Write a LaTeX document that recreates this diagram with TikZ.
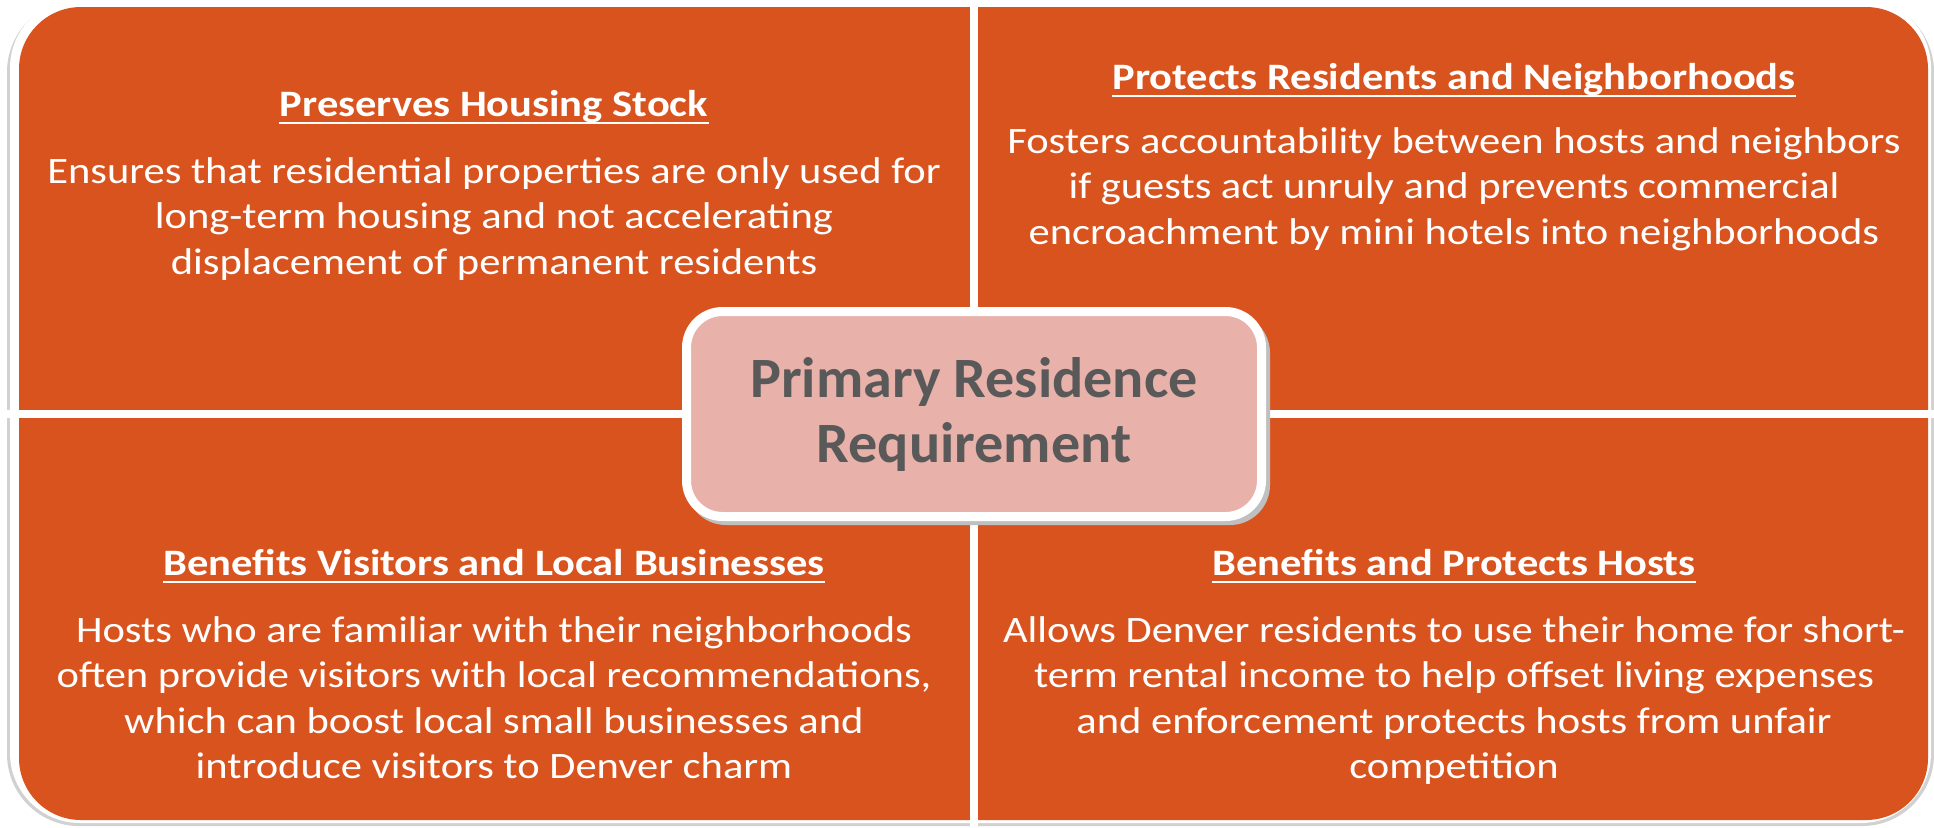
\documentclass[tikz,border=0pt]{standalone}
\usepackage{fontspec}
\setmainfont{Carlito}
\newfontfamily\quadfont{Carlito}[FakeStretch=1.14]
\newfontfamily\centrefont{Carlito}[FakeStretch=1.02]
\usetikzlibrary{calc}
\definecolor{quadorange}{HTML}{D9531E}
\definecolor{centerpink}{HTML}{E8B1AA}
\definecolor{centergray}{HTML}{595959}
\begin{document}
\begin{tikzpicture}[x=0.5pt,y=-0.5pt,
  heading/.style={anchor=base, inner sep=0pt, text=white, font=\quadfont\bfseries\fontsize{18.65}{22.75}\selectfont},
  bodytext/.style={anchor=base, inner sep=0pt, text=white, align=center, font=\quadfont\fontsize{18.65}{22.75}\selectfont},
  uline/.style={draw=white, line width=1.1pt},
  centerbox/.style={draw=white, line width=4.5pt, fill=centerpink, rounded corners=18pt,
    minimum width=287.5pt, minimum height=102.5pt, inner sep=0pt, align=center,
    text=centergray, font=\centrefont\bfseries\fontsize{28.5}{32.5}\selectfont}]
\useasboundingbox (0,0) rectangle (1934,827);
\fill[white] (0,0) rectangle (1934,827);
% outer frame with soft shadow
\fill[black!18, rounded corners=36pt] (7,0) rectangle (1934,826);
\fill[white, rounded corners=35pt] (10,-2) rectangle (1931,823);
% orange field split into four quadrants
\fill[quadorange, rounded corners=31pt] (19,7) rectangle (1928,820);
\fill[white] (970,0) rectangle (978,827);
\fill[white] (0,410) rectangle (1934,418);
% quadrant texts (body nodes are anchored at the baseline of their last line)
\node[heading] (h1) at (494,116) {Preserves Housing Stock};
\draw[uline] ($(h1.base west)+(0,7)$) -- ($(h1.base east)+(0,7)$);
\node[bodytext] (b1) at (494,274) {Ensures that residential properties are only used for\\long-term housing and not accelerating\\displacement of permanent residents};
\node[heading] (h2) at (1454,89) {Protects Residents and Neighborhoods};
\draw[uline] ($(h2.base west)+(0,7)$) -- ($(h2.base east)+(0,7)$);
\node[bodytext] (b2) at (1454,244) {Fosters accountability between hosts and neighbors\\if guests act unruly and prevents commercial\\encroachment by mini hotels into neighborhoods};
\node[heading] (h3) at (494,575) {Benefits Visitors and Local Businesses};
\draw[uline] ($(h3.base west)+(0,7)$) -- ($(h3.base east)+(0,7)$);
\node[bodytext] (b3) at (494,778.5) {Hosts who are familiar with their neighborhoods\\often provide visitors with local recommendations,\\which can boost local small businesses and\\introduce visitors to Denver charm};
\node[heading] (h4) at (1454,575) {Benefits and Protects Hosts};
\draw[uline] ($(h4.base west)+(0,7)$) -- ($(h4.base east)+(0,7)$);
\node[bodytext] (b4) at (1454,778.5) {Allows Denver residents to use their home for short-\\term rental income to help offset living expenses\\and enforcement protects hosts from unfair\\competition};
% centre box
\fill[black!25, rounded corners=20pt] (686,313) rectangle (1270,525);
\node[centerbox] (c) at (974,414) {Primary Residence\\Requirement};
\end{tikzpicture}
\end{document}
